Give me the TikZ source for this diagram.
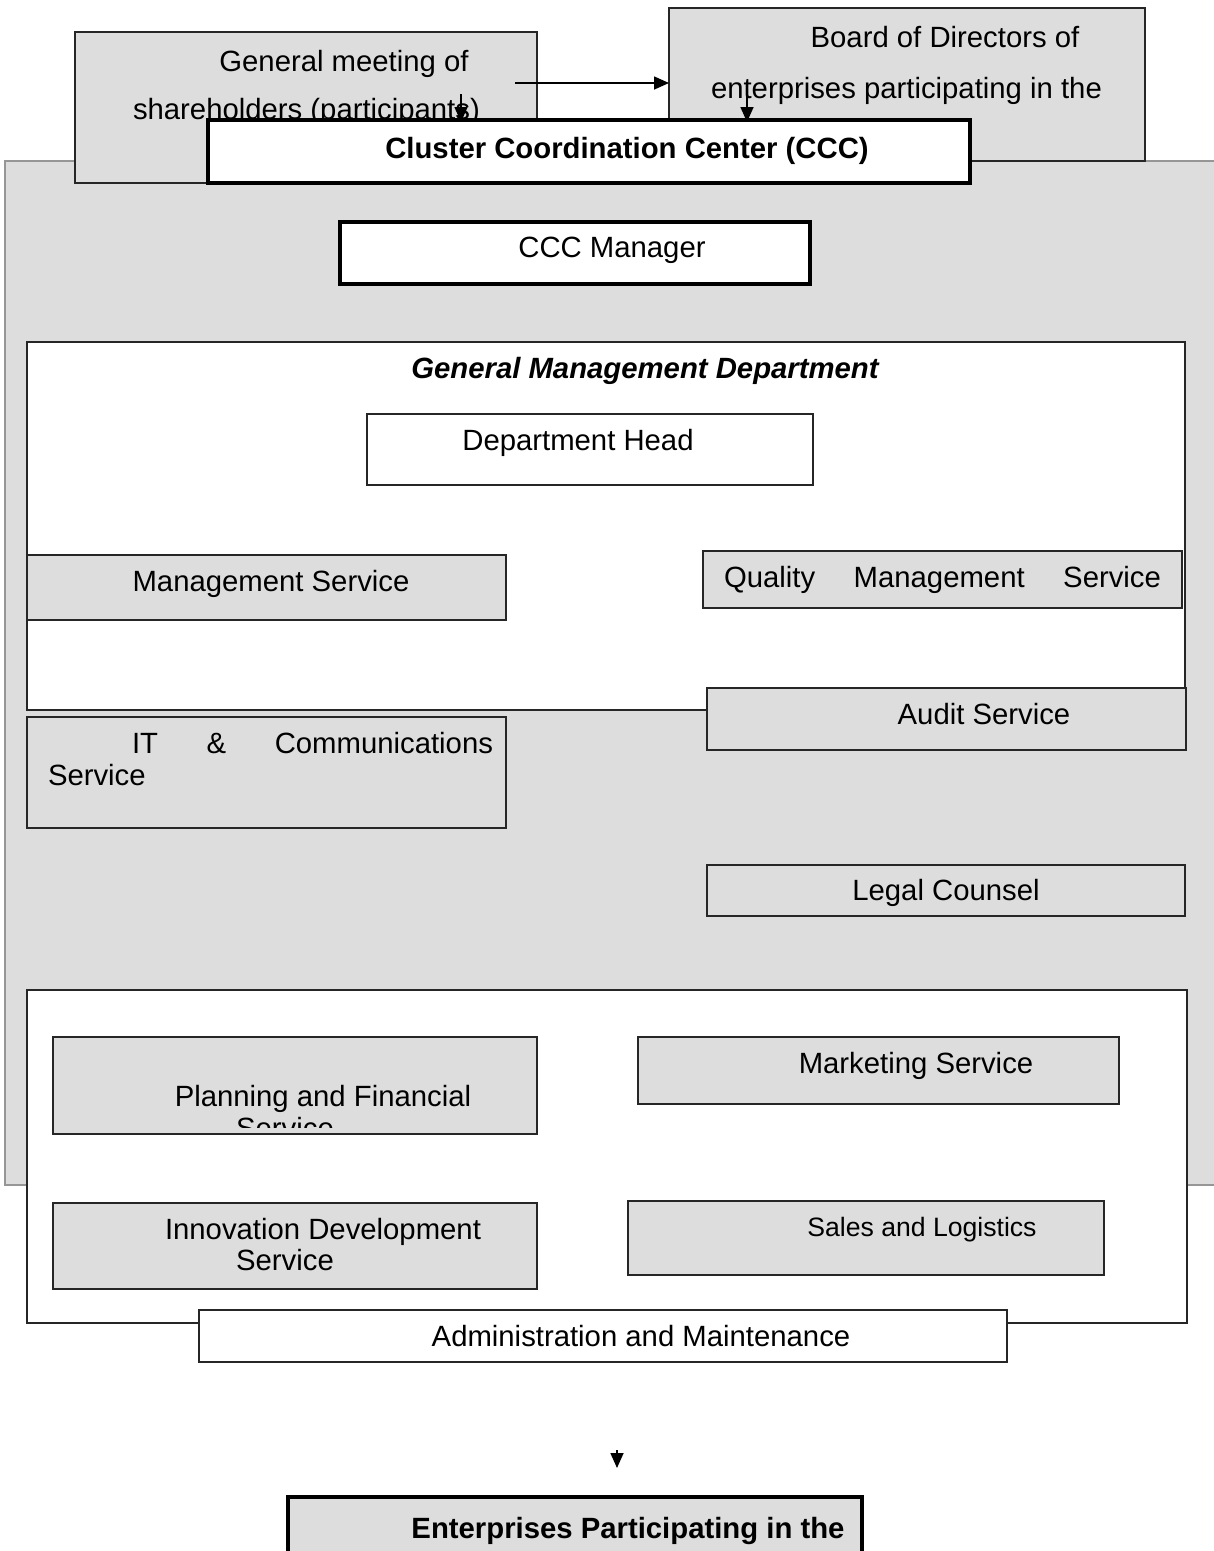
\documentclass[tikz,border=0pt]{standalone}
\usepackage{fontspec}
\setmainfont{Liberation Sans}
\usetikzlibrary{arrows.meta}
\definecolor{boxgray}{RGB}{221,221,221}
\definecolor{panelline}{RGB}{150,150,150}

\begin{document}
\begin{tikzpicture}[x=1pt,y=-1pt,
  every node/.style={font=\fontsize{29.3}{33}\selectfont, inner sep=0pt, outer sep=0pt},
  frame/.style={rectangle, draw=black!85, line width=1.3pt, anchor=north west},
  graybox/.style={frame, fill=boxgray},
  whitebox/.style={frame, fill=white},
  heavybox/.style={frame, draw=black, line width=3.5pt},
  lbl/.style={anchor=base},
  arr/.style={-{Triangle[length=15pt,width=13pt]}, line width=1.6pt}
]
\useasboundingbox (0,0) rectangle (1214,1551);
\clip (0,0) rectangle (1214,1551);

% shaded background panel of the coordination center
\node[frame, draw=panelline, fill=boxgray, minimum width=1240pt, minimum height=1024pt] (panel) at (5,161) {};

% governing bodies
\node[graybox, minimum width=462pt, minimum height=151pt] (meeting) at (75,32) {};
\node[graybox, minimum width=476pt, minimum height=153pt] (board) at (669,8) {};
\node[lbl] (meet1) at (344,71) {General meeting of};
\node[lbl, anchor=base west] (meet2) at (133,119) {shareholders (participants)};
\node[lbl] (board1) at (945,47) {Board of Directors of};
\node[lbl, anchor=base west] (board2) at (711,98) {enterprises participating in the};

% coordination center header
\node[heavybox, fill=white, minimum width=762pt, minimum height=63pt] (ccc) at (208,120) {};
\node[lbl, font=\fontsize{29.3}{33}\selectfont\bfseries] (ccctxt) at (627,158) {Cluster Coordination Center (CCC)};

% links between governing bodies and the center
\coordinate (meetout) at (515,83);
\draw[arr] (meetout) -- (board.west |- meetout);
\coordinate (meetdown) at (461,94);
\draw[arr] (meetdown) -- ([yshift=-2pt]meetdown |- ccc.north);
\coordinate (boarddown) at (747,96);
\draw[arr] (boarddown) -- ([yshift=-2pt]boarddown |- ccc.north);

% manager
\node[heavybox, fill=white, minimum width=470pt, minimum height=62pt] (mgr) at (340,222) {};
\node[lbl] (mgrtxt) at (612,257) {CCC Manager};

% general management department
\node[whitebox, minimum width=1158pt, minimum height=368pt] (gmd) at (27,342) {};
\node[lbl, font=\fontsize{29.3}{33}\selectfont\bfseries\itshape] (gmdtxt) at (645,378) {General Management Department};
\node[whitebox, minimum width=446pt, minimum height=71pt] (head) at (367,414) {};
\node[lbl] (headtxt) at (578,450) {Department Head};

\node[graybox, minimum width=479pt, minimum height=65pt] (msvc) at (27,555) {};
\node[lbl] (msvctxt) at (271,591) {Management Service};
\node[graybox, minimum width=479pt, minimum height=57pt] (quality) at (703,551) {};
\node[lbl, anchor=base west] (qualitytxt) at (724,587) {\makebox[437pt][s]{Quality Management Service}};

\node[graybox, minimum width=479pt, minimum height=62pt] (audit) at (707,688) {};
\node[lbl] (audittxt) at (984,724) {Audit Service};
\node[graybox, minimum width=479pt, minimum height=111pt] (it) at (27,717) {};
\node[lbl, anchor=base west] (ittxt1) at (132,753) {\makebox[361pt][s]{IT \& Communications}};
\node[lbl, anchor=base west] (ittxt2) at (48,785) {Service};
\node[graybox, minimum width=478pt, minimum height=51pt] (legal) at (707,865) {};
\node[lbl] (legaltxt) at (946,900) {Legal Counsel};

% operational services
\node[whitebox, minimum width=1160pt, minimum height=333pt] (ops) at (27,990) {};
\node[graybox, minimum width=484pt, minimum height=97pt] (plan) at (53,1037) {};
\begin{scope}
  \clip (53,1037) rectangle (537,1127);
  \node[lbl] (plantxt1) at (323,1106) {Planning and Financial};
  \node[lbl] (plantxt2) at (285,1138) {Service};
\end{scope}
\node[graybox, minimum width=481pt, minimum height=67pt] (mkt) at (638,1037) {};
\node[lbl] (mkttxt) at (916,1073) {Marketing Service};
\node[graybox, minimum width=484pt, minimum height=86pt] (innov) at (53,1203) {};
\node[lbl] (innovtxt1) at (323,1239) {Innovation Development};
\node[lbl] (innovtxt2) at (285,1270) {Service};
\node[graybox, minimum width=476pt, minimum height=74pt] (sales) at (628,1201) {};
\node[lbl, font=\fontsize{26.6}{30}\selectfont] (salestxt) at (922,1236) {Sales and Logistics};
\node[whitebox, minimum width=808pt, minimum height=52pt] (admin) at (199,1310) {};
\node[lbl] (admintxt) at (641,1346) {Administration and Maintenance};

% link down to the participating enterprises
\coordinate (downstart) at (617,1450);
\coordinate (downend) at (617,1468);
\draw[arr] (downstart) -- (downend);
\node[heavybox, fill=boxgray, minimum width=574pt, minimum height=90pt] (ent) at (288,1497) {};
\node[lbl, font=\fontsize{29.3}{33}\selectfont\bfseries] (enttxt) at (628,1538) {Enterprises Participating in the};
\end{tikzpicture}
\end{document}
